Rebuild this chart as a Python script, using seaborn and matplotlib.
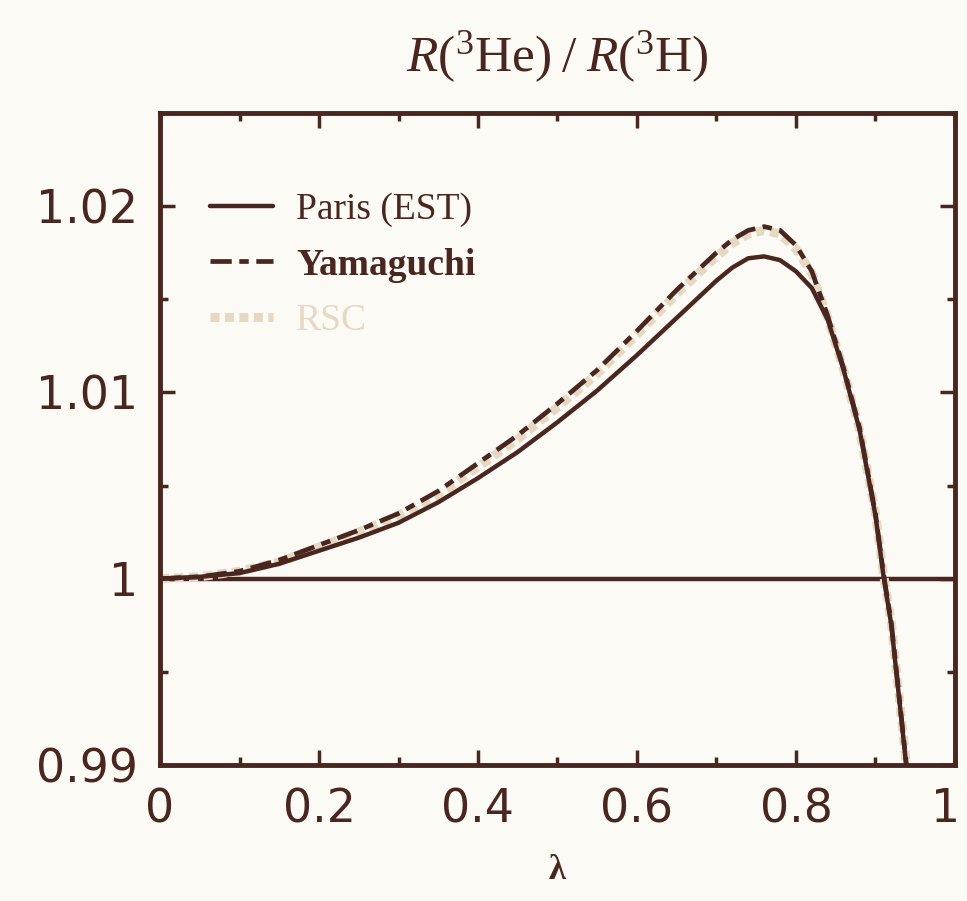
import numpy as np
import pandas as pd
import matplotlib
matplotlib.use("Agg")
import matplotlib.pyplot as plt
import matplotlib.transforms as mtransforms
from matplotlib.ticker import FixedLocator, FixedFormatter, MultipleLocator
import seaborn as sns

# lambda grid and the three ratio curves
lam = [0.0, 0.05, 0.10, 0.15, 0.20, 0.25, 0.30, 0.35, 0.40, 0.45, 0.50, 0.55,
       0.60, 0.65, 0.70, 0.72, 0.74, 0.76, 0.78, 0.80, 0.82, 0.84, 0.86, 0.88,
       0.90, 0.91, 0.92, 0.93, 0.94, 0.95]
paris = [1.0000, 1.0001, 1.0003, 1.0008, 1.0015, 1.0022, 1.0030, 1.0041, 1.0054,
         1.0068, 1.0084, 1.0101, 1.0120, 1.0140, 1.0160, 1.0167, 1.0172, 1.0173,
         1.0171, 1.0165, 1.0156, 1.0139, 1.0112, 1.0080, 1.0034, 1.0002, 0.9975,
         0.9935, 0.9895, 0.9850]
yamaguchi = [1.0000, 1.0001, 1.0004, 1.0010, 1.0018, 1.0026, 1.0035, 1.0047,
             1.0062, 1.0077, 1.0094, 1.0112, 1.0133, 1.0155, 1.0175, 1.0182,
             1.0187, 1.0189, 1.0187, 1.0179, 1.0165, 1.0141, 1.0113, 1.0081,
             1.0035, 1.0003, 0.9976, 0.9936, 0.9896, 0.9851]
rsc = [1.0000, 1.0001, 1.0004, 1.0009, 1.0017, 1.0025, 1.0034, 1.0045, 1.0060,
       1.0075, 1.0092, 1.0110, 1.0131, 1.0153, 1.0173, 1.0180, 1.0185, 1.0187,
       1.0185, 1.0177, 1.0164, 1.0140, 1.0112, 1.0080, 1.0035, 1.0003, 0.9976,
       0.9936, 0.9896, 0.9851]

x_ticks = [0, 0.2, 0.4, 0.6, 0.8, 1.0]
x_ticklabels = ["0", "0.2", "0.4", "0.6", "0.8", "1"]
y_ticks = [0.99, 1.00, 1.01, 1.02]
y_ticklabels = ["0.99", "1", "1.01", "1.02"]

ink = "#4a2620"
pale = "#e6d9c4"
paper = "#fcfaf5"

sns.set_theme(style="ticks")
plt.rcParams["font.family"] = ["DejaVu Sans"]
plt.rcParams["mathtext.fontset"] = "custom"
plt.rcParams["mathtext.rm"] = "Liberation Serif"
plt.rcParams["mathtext.it"] = "Liberation Serif:italic"
plt.rcParams["mathtext.bf"] = "Liberation Serif:bold"

df = pd.DataFrame({"lam": lam, "Paris (EST)": paris,
                   "Yamaguchi": yamaguchi, "RSC": rsc})

fig = plt.figure(figsize=(9.67, 9.01), dpi=100, facecolor=paper)
ax = fig.add_axes([0.1655, 0.151, 0.822, 0.7236])
ax.set_facecolor(paper)

ax.axhline(1.0, color=ink, lw=3.2, zorder=1)
sns.lineplot(data=df, x="lam", y="RSC", ax=ax, color=pale, lw=6.5,
             linestyle=(0, (1, 0.6)), label="RSC", zorder=2)
sns.lineplot(data=df, x="lam", y="Paris (EST)", ax=ax, color=ink, lw=3.2,
             label="Paris (EST)", zorder=3)
sns.lineplot(data=df, x="lam", y="Yamaguchi", ax=ax, color=ink, lw=3.4,
             linestyle=(0, (4.5, 1.6, 2, 1.6)), label="Yamaguchi", zorder=4)

ax.set_xlim(0, 1)
ax.set_ylim(0.99, 1.025)

ax.xaxis.set_major_locator(FixedLocator(x_ticks))
ax.xaxis.set_major_formatter(FixedFormatter(x_ticklabels))
ax.xaxis.set_minor_locator(MultipleLocator(0.1))
ax.yaxis.set_major_locator(FixedLocator(y_ticks))
ax.yaxis.set_major_formatter(FixedFormatter(y_ticklabels))
ax.yaxis.set_minor_locator(MultipleLocator(0.005))

ax.tick_params(which="both", direction="in", top=True, right=True,
               color=ink, labelcolor=ink, width=2.5)
ax.tick_params(which="major", length=11, labelsize=33, pad=16)
ax.tick_params(which="minor", length=6)
for s in ax.spines.values():
    s.set_color(ink)
    s.set_linewidth(3.5)
    s.set_visible(True)

# nudge the last x tick label so it stays inside the figure
fig.canvas.draw()
last = ax.get_xticklabels()[-1]
last.set_transform(last.get_transform() +
                   mtransforms.ScaledTranslation(-9 / 100, 0, fig.dpi_scale_trans))

ax.set_ylabel("")
ax.set_xlabel(r"$\mathbf{\lambda}$", fontsize=25, color=ink, labelpad=14)
ax.set_title(r"$R(^3\mathrm{He})\;/\;R(^3\mathrm{H})$", fontsize=37,
             color=ink, pad=30)

handles, labels = ax.get_legend_handles_labels()
order = [labels.index(n) for n in ["Paris (EST)", "Yamaguchi", "RSC"]]
leg = ax.legend([handles[i] for i in order], [labels[i] for i in order],
                loc="upper left", bbox_to_anchor=(0.02, 0.93), frameon=False,
                handlelength=1.7, handletextpad=0.6, labelspacing=0.55,
                prop={"family": "Liberation Serif", "size": 27})
texts = leg.get_texts()
texts[0].set_color(ink)
texts[1].set_color(ink)
texts[1].set_fontweight("bold")
texts[2].set_color(pale)

fig.savefig("out.png", dpi=100, facecolor=paper)
